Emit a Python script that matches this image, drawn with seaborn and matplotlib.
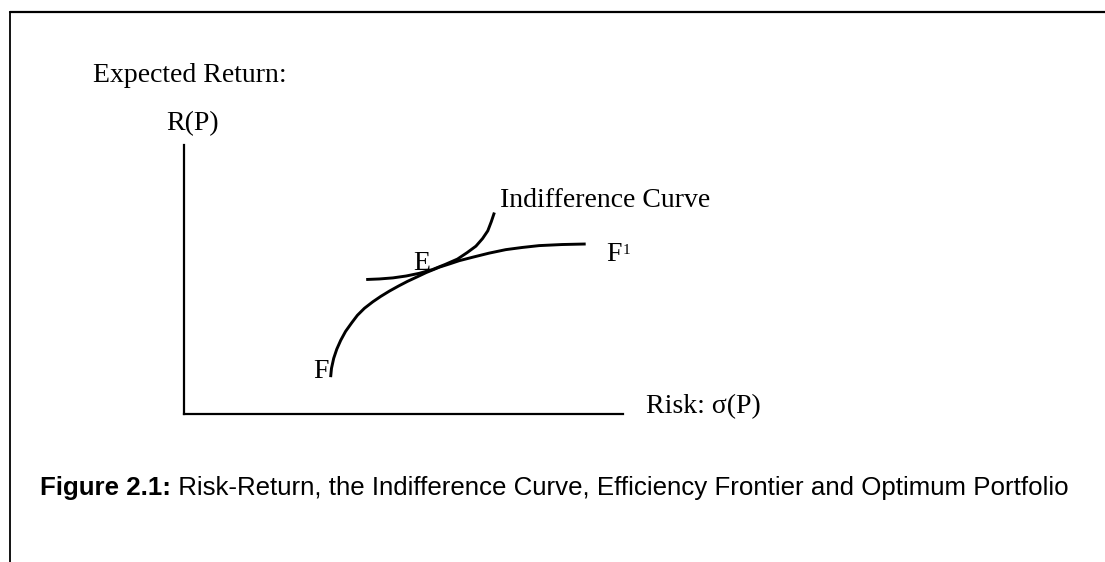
import numpy as np
import pandas as pd
import matplotlib
matplotlib.use("Agg")
import matplotlib.pyplot as plt
from matplotlib.lines import Line2D
import seaborn as sns

# ---- data (risk on x, expected return on y; axis units 0..10) ----
frontier_risk = [3.34, 3.36, 3.41, 3.48, 3.57, 3.68, 3.82, 3.95, 4.11, 4.30, 4.48, 4.68, 4.89,
                 5.09, 5.30, 5.52, 5.82, 6.05, 6.27, 6.58, 6.95, 7.33, 7.70, 8.09, 8.61, 9.15]
frontier_ret = [1.37, 1.70, 2.07, 2.41, 2.74, 3.07, 3.39, 3.67, 3.93, 4.17, 4.37, 4.57, 4.76,
                4.93, 5.09, 5.26, 5.46, 5.58, 5.70, 5.83, 5.98, 6.11, 6.19, 6.26, 6.30, 6.32]

indiff_risk = [4.15, 4.45, 4.76, 5.06, 5.36, 5.66, 5.95, 6.23, 6.45, 6.65, 6.80, 6.92, 7.00, 7.07]
indiff_ret = [5.00, 5.02, 5.06, 5.13, 5.23, 5.37, 5.56, 5.76, 6.00, 6.24, 6.52, 6.81, 7.15, 7.49]

axis_max = 10

y_title = "Expected Return:"
y_label = "R(P)"
x_label = "Risk: σ(P)"
curve_label = "Indifference Curve"
caption_bold = "Figure 2.1:"
caption_text = " Risk-Return, the Indifference Curve, Efficiency Frontier and Optimum Portfolio"

# ---- styling ----
sns.set_theme(style="white")
plt.rcParams["font.family"] = ["Liberation Serif", "DejaVu Serif"]

W, H = 1105, 562
fig = plt.figure(figsize=(W / 100, H / 100), dpi=100)
fig.patch.set_facecolor("white")

def fx(px):
    return px / W

def fy(py):
    return 1 - py / H

# axes: origin at pixel (184, 414), top at 145, right at 623
ax = fig.add_axes([fx(184), fy(414), fx(623) - fx(184), fy(145) - fy(414)])
ax.set_facecolor("none")

df_f = pd.DataFrame({"risk": frontier_risk, "ret": frontier_ret})
df_i = pd.DataFrame({"risk": indiff_risk, "ret": indiff_ret})
sns.lineplot(data=df_f, x="risk", y="ret", sort=False, estimator=None, ax=ax,
             color="black", linewidth=2.1, solid_capstyle="butt", solid_joinstyle="round")
sns.lineplot(data=df_i, x="risk", y="ret", sort=False, estimator=None, ax=ax,
             color="black", linewidth=2.1, solid_capstyle="butt", solid_joinstyle="round")

ax.set_xlim(0, axis_max)
ax.set_ylim(0, axis_max)
ax.set_xticks([])
ax.set_yticks([])
ax.set_xlabel("")
ax.set_ylabel("")
for s in ["top", "right"]:
    ax.spines[s].set_visible(False)
for s in ["left", "bottom"]:
    ax.spines[s].set_visible(True)
    ax.spines[s].set_color("black")
    ax.spines[s].set_linewidth(1.6)
    ax.spines[s].set_capstyle("projecting")

# ---- border ----
fig.add_artist(Line2D([fx(10), 1.0], [fy(12), fy(12)], color="black", linewidth=1.6))
fig.add_artist(Line2D([fx(10), fx(10)], [fy(12), 0.0], color="black", linewidth=1.3))

# ---- texts ----
fs = 20
fig.text(fx(93), fy(82), y_title, fontsize=fs, ha="left", va="baseline", color="black")
fig.text(fx(166), fy(130), y_label, fontsize=fs, ha="left", va="baseline", color="black")
fig.text(fx(500), fy(207), curve_label, fontsize=fs, ha="left", va="baseline", color="black")
fig.text(fx(646), fy(413), x_label, fontsize=fs, ha="left", va="baseline", color="black")
fig.text(fx(413), fy(270), "E", fontsize=fs, ha="left", va="baseline", color="black")
fig.text(fx(313), fy(378), "F", fontsize=fs, ha="left", va="baseline", color="black")
fig.text(fx(606), fy(261), "F", fontsize=fs, ha="left", va="baseline", color="black")
fig.text(fx(623), fy(254), "1", fontsize=11, ha="left", va="baseline", color="black")

cfs = 18.6
cap = fig.text(fx(40), fy(495), caption_bold, fontsize=cfs, fontweight="bold",
               family=["Liberation Sans", "DejaVu Sans"], ha="left", va="baseline", color="black")
fig.canvas.draw()
bb = cap.get_window_extent()
fig.text(bb.x1 / W, fy(495), caption_text, fontsize=cfs,
         family=["Liberation Sans", "DejaVu Sans"], ha="left", va="baseline", color="black")

fig.savefig("out.png", dpi=100, facecolor="white")
